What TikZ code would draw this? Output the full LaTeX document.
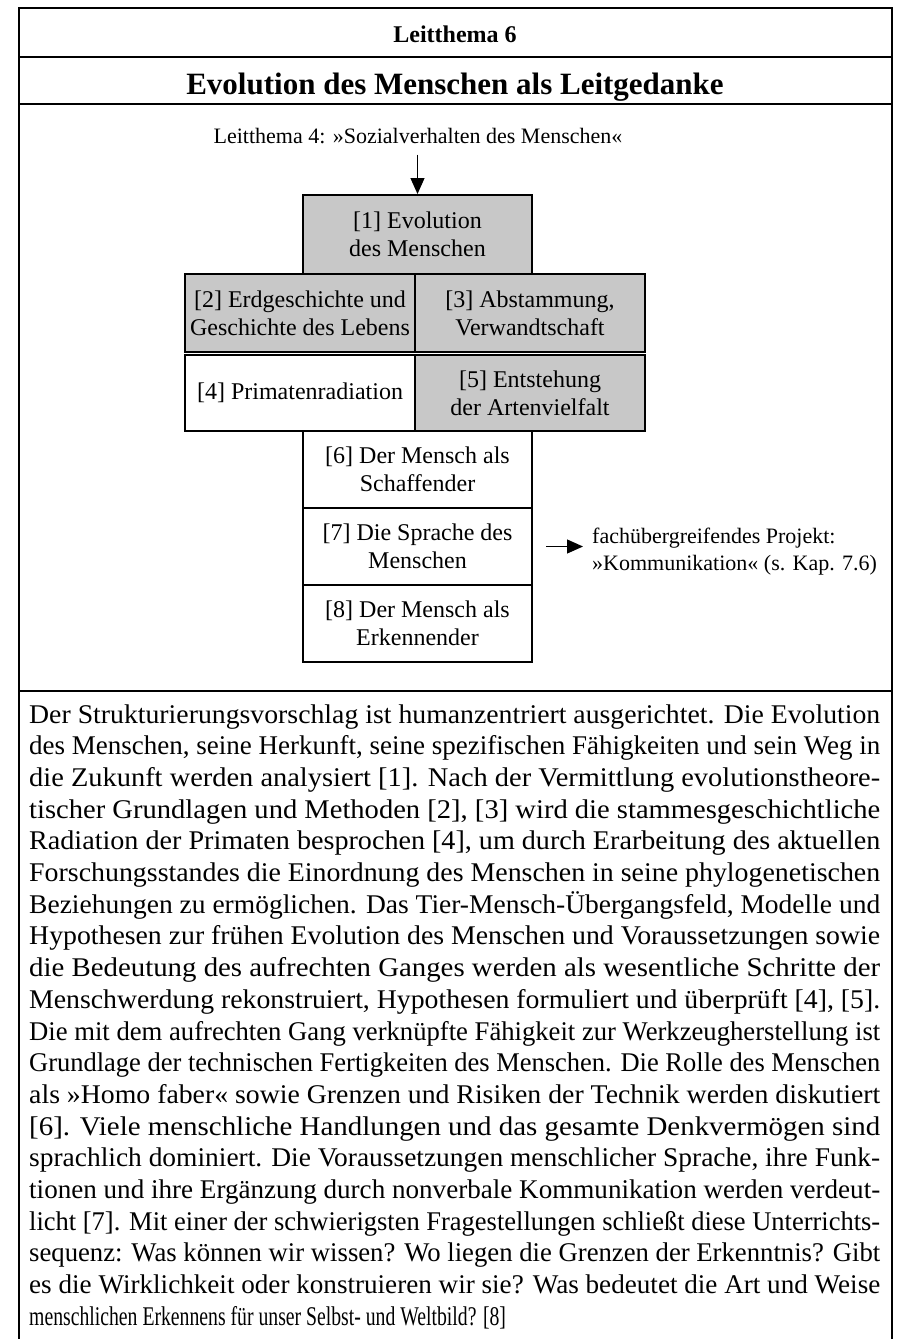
\documentclass[tikz,border=0pt]{standalone}
\usepackage{fontspec}
\usepackage{graphicx}
\setmainfont{Liberation Serif}
\newfontfamily\condserif{Liberation Serif}[FakeStretch=0.73]
\usetikzlibrary{arrows.meta}
\definecolor{cellgray}{RGB}{200,200,200}
% one justified line of the body paragraph, set to the full measure
\newcommand\jline[1]{\hbox{\resizebox{851pt}{\height}{#1}}}
\begin{document}
\begin{tikzpicture}[x=1pt,y=-1pt,
  rule/.style={line width=2.4pt},
  cell/.style={draw, line width=2pt, inner sep=0pt, align=center,
    font=\fontsize{24}{28}\selectfont},
  shaded/.style={cell, fill=cellgray},
  blank/.style={cell, fill=white},
  pointer/.style={line width=1.2pt, -{Triangle[length=16pt,width=14pt]}},
  note/.style={inner sep=0pt, font=\fontsize{22}{27}\selectfont}]
\useasboundingbox (0,0) rectangle (899,1339);

% table frame
\draw[rule] (19,1339) -- (19,8) -- (892,8) -- (892,1339);
\draw[rule] (19,57) -- (892,57);
\draw[rule] (19,104) -- (892,104);
\draw[rule] (19,691) -- (892,691);

% header cells
\node[inner sep=0pt, anchor=base, font=\bfseries\fontsize{24}{28}\selectfont] (theme) at (455,42) {Leitthema 6};
\node[inner sep=0pt, anchor=base, font=\bfseries\fontsize{31}{36}\selectfont] (title) at (455,94) {Evolution des Menschen als Leitgedanke};

% structure diagram
\node[note, anchor=base] (lt4) at (418,143) {Leitthema 4: »Sozialverhalten des Menschen«};

\node[shaded, minimum width=229pt, minimum height=79pt] (b1) at (417.5,234.5) {[1] Evolution\\des Menschen};
\node[shaded, minimum width=230pt, minimum height=78pt] (b2) at (300,313) {[2] Erdgeschichte und\\Geschichte des Lebens};
\node[shaded, minimum width=230pt, minimum height=78pt] (b3) at (530,313) {[3] Abstammung,\\Verwandtschaft};
\node[blank, minimum width=230pt, minimum height=76pt] (b4) at (300,393) {[4] Primatenradiation};
\node[shaded, minimum width=230pt, minimum height=76pt] (b5) at (530,393) {[5] Entstehung\\der Artenvielfalt};
\node[blank, minimum width=229pt, minimum height=77pt] (b6) at (417.5,469.5) {[6] Der Mensch als\\Schaffender};
\node[blank, minimum width=229pt, minimum height=77pt] (b7) at (417.5,546.5) {[7] Die Sprache des\\Menschen};
\node[blank, minimum width=229pt, minimum height=77pt] (b8) at (417.5,623.5) {[8] Der Mensch als\\Erkennender};

\node[note, anchor=west, align=left] (proj) at (592,552) {fachübergreifendes Projekt:\\»Kommunikation« (s. Kap. 7.6)};

\draw[pointer, shorten <=11pt] (lt4.south -| b1.north) -- (b1.north);
\draw[pointer, shorten <=13pt, shorten >=9pt] (b7.east) -- (b7.east -| proj.west);

% commentary paragraph
\node[inner sep=0pt, anchor=base west] (text) at (29,723) {\condserif\fontsize{27}{31.7}\selectfont
\vtop{\baselineskip=31.7pt
\jline{Der Strukturierungsvorschlag ist humanzentriert ausgerichtet. Die Evolution}
\jline{des Menschen, seine Herkunft, seine spezifischen Fähigkeiten und sein Weg in}
\jline{die Zukunft werden analysiert [1]. Nach der Vermittlung evolutionstheore-}
\jline{tischer Grundlagen und Methoden [2], [3] wird die stammesgeschichtliche}
\jline{Radiation der Primaten besprochen [4], um durch Erarbeitung des aktuellen}
\jline{Forschungsstandes die Einordnung des Menschen in seine phylogenetischen}
\jline{Beziehungen zu ermöglichen. Das Tier-Mensch-Übergangsfeld, Modelle und}
\jline{Hypothesen zur frühen Evolution des Menschen und Voraussetzungen sowie}
\jline{die Bedeutung des aufrechten Ganges werden als wesentliche Schritte der}
\jline{Menschwerdung rekonstruiert, Hypothesen formuliert und überprüft [4], [5].}
\jline{Die mit dem aufrechten Gang verknüpfte Fähigkeit zur Werkzeugherstellung ist}
\jline{Grundlage der technischen Fertigkeiten des Menschen. Die Rolle des Menschen}
\jline{als »Homo faber« sowie Grenzen und Risiken der Technik werden diskutiert}
\jline{[6]. Viele menschliche Handlungen und das gesamte Denkvermögen sind}
\jline{sprachlich dominiert. Die Voraussetzungen menschlicher Sprache, ihre Funk-}
\jline{tionen und ihre Ergänzung durch nonverbale Kommunikation werden verdeut-}
\jline{licht [7]. Mit einer der schwierigsten Fragestellungen schließt diese Unterrichts-}
\jline{sequenz: Was können wir wissen? Wo liegen die Grenzen der Erkenntnis? Gibt}
\jline{es die Wirklichkeit oder konstruieren wir sie? Was bedeutet die Art und Weise}
\hbox{menschlichen Erkennens für unser Selbst- und Weltbild? [8]}}};
\end{tikzpicture}
\end{document}
